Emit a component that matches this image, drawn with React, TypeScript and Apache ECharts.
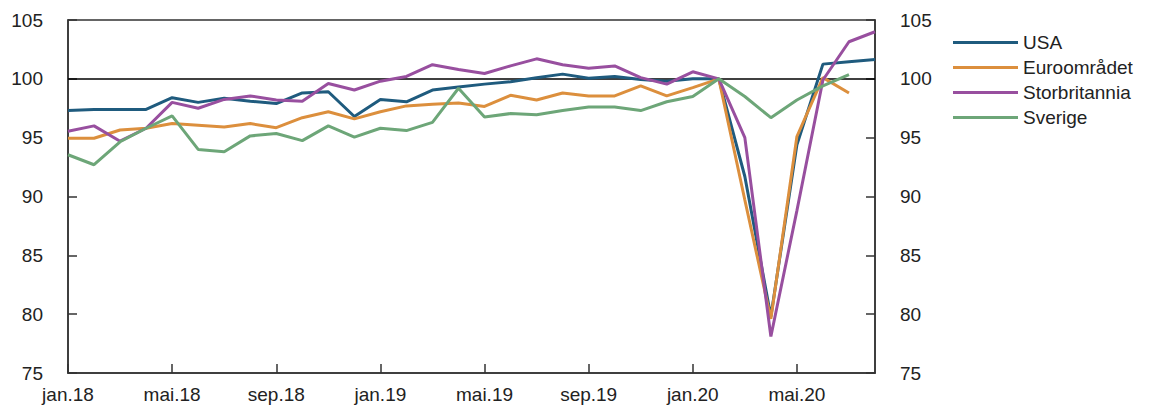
import React, { useEffect, useRef } from "react";
import * as echarts from "echarts";

const months = [
  "jan.18", "feb.18", "mar.18", "apr.18", "mai.18", "jun.18", "jul.18", "aug.18",
  "sep.18", "okt.18", "nov.18", "des.18", "jan.19", "feb.19", "mar.19", "apr.19",
  "mai.19", "jun.19", "jul.19", "aug.19", "sep.19", "okt.19", "nov.19", "des.19",
  "jan.20", "feb.20", "mar.20", "apr.20", "mai.20", "jun.20", "jul.20", "aug.20",
];

const usa = [
  97.3, 97.4, 97.4, 97.4, 98.4, 98.0, 98.35, 98.1, 97.9, 98.8, 98.9, 96.8,
  98.25, 98.05, 99.05, 99.3, 99.55, 99.75, 100.1, 100.4, 100.05, 100.2, 99.95, 99.8,
  100.0, 100.0, 91.7, 79.8, 94.4, 101.25, 101.45, 101.65,
];

const euroomradet = [
  94.95, 94.95, 95.65, 95.8, 96.2, 96.05, 95.9, 96.2, 95.85, 96.7, 97.2, 96.6,
  97.2, 97.7, 97.85, 97.95, 97.65, 98.6, 98.2, 98.8, 98.55, 98.55, 99.4, 98.55,
  99.25, 100.0, 89.7, 79.6, 95.1, 100.1, 98.8, null,
];

const storbritannia = [
  95.55, 96.0, 94.7, 95.8, 98.0, 97.5, 98.25, 98.55, 98.2, 98.1, 99.6, 99.05,
  99.8, 100.2, 101.2, 100.8, 100.45, 101.1, 101.7, 101.2, 100.9, 101.1, 100.1, 99.55,
  100.6, 100.0, 95.0, 78.1, 88.8, 99.9, 103.15, 104.0,
];

const sverige = [
  93.55, 92.7, 94.65, 95.8, 96.85, 94.0, 93.8, 95.15, 95.35, 94.75, 96.0, 95.05,
  95.8, 95.6, 96.3, 99.2, 96.75, 97.05, 96.95, 97.3, 97.6, 97.6, 97.3, 98.05,
  98.5, 100.0, 98.5, 96.7, 98.2, 99.4, 100.35, null,
];

const seriesNames = ["USA", "Euroområdet", "Storbritannia", "Sverige"];
const seriesColors = ["#1f5b7e", "#dc8f3d", "#984f9f", "#6da678"];
const yMin = 75;
const yMax = 105;
const yStep = 5;
const refLevel = 100;

export default function App() {
  const ref = useRef<HTMLDivElement>(null);

  useEffect(() => {
    document.body.style.margin = "0";
    if (!ref.current) return;
    const chart = echarts.init(ref.current, undefined, { renderer: "svg" });
    const font = "Liberation Sans, Arial, sans-serif";
    const textColor = "#222";
    const axisColor = "#333";
    const dataSets = [usa, euroomradet, storbritannia, sverige];

    const series: any[] = dataSets.map((d, i) => ({
      name: seriesNames[i],
      type: "line",
      data: d,
      yAxisIndex: 0,
      symbol: "none",
      showSymbol: false,
      connectNulls: false,
      lineStyle: { color: seriesColors[i], width: 3 },
      itemStyle: { color: seriesColors[i] },
      z: 3,
    }));
    series[0].markLine = {
      silent: true,
      symbol: "none",
      label: { show: false },
      lineStyle: { color: "#000", width: 1.5, type: "solid" },
      data: [{ yAxis: refLevel }],
      z: 2,
    };

    const yAxisCommon = {
      type: "value",
      min: yMin,
      max: yMax,
      interval: yStep,
      splitLine: { show: false },
      axisLine: { show: true, lineStyle: { color: axisColor, width: 1.5 } },
      axisTick: { show: true, inside: true, length: 9, lineStyle: { color: axisColor, width: 1.5 } },
      axisLabel: { color: textColor, fontSize: 19, fontFamily: font, margin: 25 },
    };

    chart.setOption({
      animation: false,
      backgroundColor: "#fff",
      grid: {
        left: 68,
        right: 275,
        top: 20,
        bottom: 36,
        show: true,
        borderColor: axisColor,
        borderWidth: 1.5,
        backgroundColor: "transparent",
      },
      legend: {
        orient: "vertical",
        left: 953,
        top: 33,
        padding: 0,
        icon: "rect",
        itemWidth: 65,
        itemHeight: 3,
        itemGap: 6,
        data: seriesNames.map((n, i) => ({ name: n, itemStyle: { color: seriesColors[i] } })),
        textStyle: { color: textColor, fontSize: 19, fontFamily: font, lineHeight: 19 },
      },
      xAxis: {
        type: "category",
        data: months,
        boundaryGap: false,
        axisLine: { show: true, lineStyle: { color: axisColor, width: 1.5 } },
        axisTick: {
          show: true,
          inside: true,
          length: 9,
          interval: 3,
          lineStyle: { color: axisColor, width: 1.5 },
        },
        axisLabel: {
          interval: 3,
          color: textColor,
          fontSize: 19,
          fontFamily: font,
          margin: 12,
        },
        splitLine: { show: false },
      },
      yAxis: [
        { ...yAxisCommon, position: "left" },
        { ...yAxisCommon, position: "right" },
      ],
      series,
    });

    return () => chart.dispose();
  }, []);

  return <div ref={ref} style={{ width: 1150, height: 409 }} />;
}
